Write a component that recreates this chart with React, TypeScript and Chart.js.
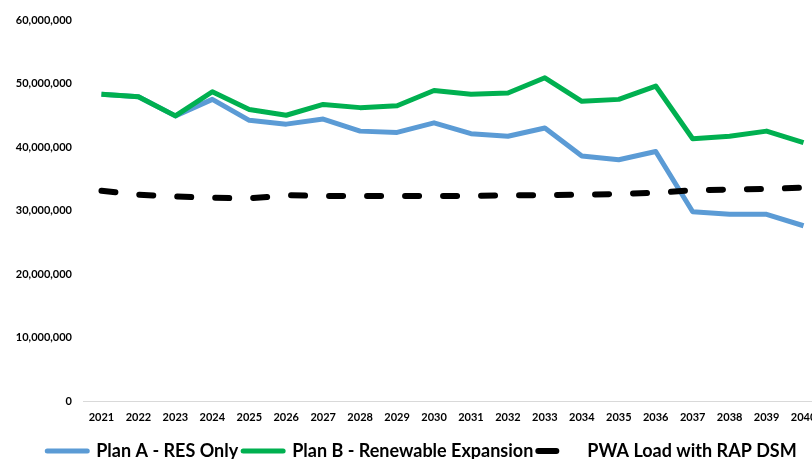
import React, { useEffect, useRef } from "react";
import { Chart, registerables } from "chart.js";

Chart.register(...registerables);

const years = ["2021","2022","2023","2024","2025","2026","2027","2028","2029","2030","2031","2032","2033","2034","2035","2036","2037","2038","2039","2040"];
const planA = [48.3,47.9,44.9,47.5,44.2,43.6,44.4,42.5,42.3,43.8,42.1,41.7,43.0,38.6,38.0,39.3,29.8,29.4,29.4,27.6].map(v => v * 1e6);
const planB = [48.3,47.9,44.9,48.7,45.9,45.0,46.7,46.2,46.5,48.9,48.3,48.5,50.9,47.2,47.5,49.6,41.3,41.7,42.5,40.7].map(v => v * 1e6);
const pwaLoad = [33.1,32.5,32.2,32.0,31.9,32.4,32.3,32.3,32.3,32.3,32.3,32.4,32.4,32.5,32.6,32.8,33.2,33.3,33.4,33.6].map(v => v * 1e6);
const seriesNames = ["Plan A - RES Only", "Plan B - Renewable Expansion", "PWA Load with RAP DSM"];

const FONT = "Lato";

const legendShift = {
  id: "legendShift",
  afterLayout(chart: any) {
    const lg = chart.legend;
    if (lg) {
      lg.left += 11;
      lg.right += 11;
    }
  },
};

export default function App() {
  const ref = useRef<HTMLCanvasElement>(null);
  useEffect(() => {
    const ctx = ref.current!;
    const chart = new Chart(ctx, {
      type: "line",
      data: {
        labels: years,
        datasets: [
          { label: seriesNames[0], data: planA, borderColor: "#5B9BD5", backgroundColor: "#5B9BD5", borderWidth: 5, pointRadius: 0, tension: 0, order: 2, borderJoinStyle: "round" },
          { label: seriesNames[1], data: planB, borderColor: "#00B050", backgroundColor: "#00B050", borderWidth: 5, pointRadius: 0, tension: 0, order: 1, borderJoinStyle: "round" },
          { label: seriesNames[2], data: pwaLoad, borderColor: "#000000", backgroundColor: "#000000", borderWidth: 6, borderDash: [14, 24], borderCapStyle: "round", pointRadius: 0, tension: 0, order: 0 },
        ],
      },
      plugins: [legendShift],
      options: {
        responsive: false,
        animation: false,
        layout: { padding: { top: 20, left: 0, right: 22, bottom: 0 } },
        plugins: {
          tooltip: { enabled: false },
          legend: {
            position: "bottom",
            labels: {
              usePointStyle: true,
              pointStyle: "line",
              pointStyleWidth: 40,
              padding: 5,
              color: "#000",
              font: { family: FONT, size: 18, weight: "bold" },
              generateLabels: (chart: any) => {
                const items = Chart.defaults.plugins.legend.labels.generateLabels(chart);
                items.sort((a: any, b: any) => a.datasetIndex - b.datasetIndex);
                items.forEach((it: any) => {
                  const isLoad = it.datasetIndex === 2;
                  it.lineWidth = isLoad ? 6 : 5;
                  it.lineCap = "round";
                  it.lineDash = isLoad ? [18, 40] : [];
                  it.lineDashOffset = 0;
                  it.pointStyle = "line";
                });
                return items;
              },
            },
          },
        },
        scales: {
          x: {
            offset: true,
            grid: { display: false, drawTicks: false },
            border: { display: true, color: "#d9d9d9", width: 1 },
            ticks: { color: "#000", padding: 10, maxRotation: 0, autoSkip: false, font: { family: FONT, size: 11, weight: "bold" } },
            afterFit: (s: any) => { s.height = 36; },
          },
          y: {
            min: 0,
            max: 60000000,
            grid: { display: false, drawTicks: false },
            border: { display: false },
            ticks: {
              stepSize: 10000000,
              padding: 11,
              color: "#000",
              font: { family: FONT, size: 11, weight: "bold" },
              callback: (v: any) => Number(v).toLocaleString("en-US"),
            },
            afterFit: (s: any) => { s.width = 83; },
          },
        },
      },
    });
    return () => chart.destroy();
  }, []);
  return (
    <div style={{ position: "fixed", left: 0, top: 0, width: 812, height: 459, overflow: "hidden", background: "#fff" }}>
      <canvas ref={ref} width={844} height={470} style={{ display: "block" }} />
    </div>
  );
}
